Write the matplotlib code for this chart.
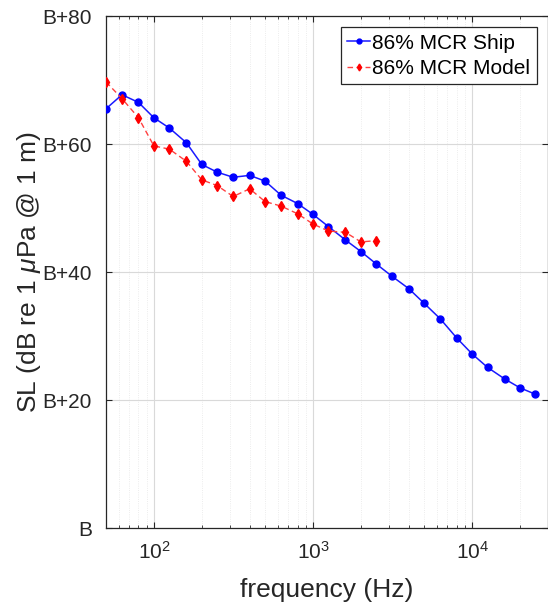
import matplotlib
matplotlib.use("Agg")
import matplotlib.pyplot as plt
from matplotlib.ticker import FixedLocator, LogLocator, NullFormatter

plt.rcParams['font.family'] = ['Liberation Sans', 'DejaVu Sans']
plt.rcParams['mathtext.fontset'] = 'custom'
plt.rcParams['mathtext.it'] = 'Liberation Sans:italic'
plt.rcParams['mathtext.rm'] = 'Liberation Sans'

# One-third octave band centre frequencies (Hz)
freq_ship = [50, 63, 80, 100, 125, 160, 200, 250, 315, 400, 500, 630, 800,
             1000, 1250, 1600, 2000, 2500, 3150, 4000, 5000, 6300, 8000,
             10000, 12500, 16000, 20000, 25000]
sl_ship = [65.5, 67.7, 66.5, 64.1, 62.5, 60.2, 56.8, 55.6, 54.8, 55.1, 54.2,
           52.0, 50.7, 49.0, 47.1, 45.0, 43.2, 41.25, 39.3, 37.4, 35.1, 32.7,
           29.7, 27.2, 25.1, 23.3, 21.9, 20.9]

freq_model = [50, 63, 80, 100, 125, 160, 200, 250, 315, 400, 500, 630, 800,
              1000, 1250, 1600, 2000, 2500]
sl_model = [69.7, 67.1, 64.1, 59.7, 59.2, 57.3, 54.4, 53.5, 51.8, 53.0, 51.0,
            50.3, 49.1, 47.5, 46.4, 46.2, 44.7, 44.9]

y_ticks = [0, 20, 40, 60, 80]
y_labels = ['B', 'B+20', 'B+40', 'B+60', 'B+80']

text_col = '#262626'

fig = plt.figure(figsize=(5.48, 6.07), dpi=100)
ax = fig.add_axes([106 / 548, 79 / 607, 442 / 548, 512 / 607])

ax.plot(freq_ship, sl_ship, '-o', color='#1a1aff', lw=1.1, ms=5,
        mec='#0000ff', mfc='#0000ff', label='86% MCR Ship', zorder=3)
ax.plot(freq_model, sl_model, '--d', color='#ff4040', lw=1.0, ms=5,
        mec='#ff0000', mfc='#ff0000', label='86% MCR Model', zorder=3,
        dashes=(4, 2.5))

ax.set_xscale('log')
ax.set_xlim(50, 30000)
ax.set_ylim(0, 80)
ax.yaxis.set_major_locator(FixedLocator(y_ticks))
ax.set_yticklabels(y_labels)
ax.xaxis.set_major_locator(LogLocator(base=10, numticks=10))
ax.xaxis.set_minor_locator(LogLocator(base=10, subs=range(2, 10), numticks=20))
ax.xaxis.set_minor_formatter(NullFormatter())

ax.grid(True, which='major', color='#d9d9d9', lw=0.8)
ax.grid(True, which='minor', axis='x', color='#e6e6e6', lw=0.6, ls=':')
ax.set_axisbelow(True)

ax.tick_params(which='both', direction='in', top=True, right=True,
               colors=text_col, labelsize=15)
ax.tick_params(which='major', length=4)
ax.tick_params(which='minor', length=2.5)
ax.tick_params(axis='y', pad=10)
ax.tick_params(axis='x', pad=9)
for s in ax.spines.values():
    s.set_color(text_col)
    s.set_linewidth(0.9)

ax.set_xlabel('frequency (Hz)', fontsize=19, color=text_col, labelpad=11)
ax.set_ylabel(r'SL (dB re 1 $\mu$Pa @ 1 m)', fontsize=19, color=text_col,
              labelpad=0)

leg = ax.legend(loc='upper right', fontsize=15, frameon=True, fancybox=False,
                edgecolor=text_col, framealpha=1, handlelength=1.1,
                handletextpad=0.1, borderpad=0.3, labelspacing=0.3,
                borderaxespad=0.55, markerscale=0.7)
leg.get_frame().set_linewidth(0.9)
for t in leg.get_texts():
    t.set_color('black')

fig.savefig('out.png', dpi=100)
